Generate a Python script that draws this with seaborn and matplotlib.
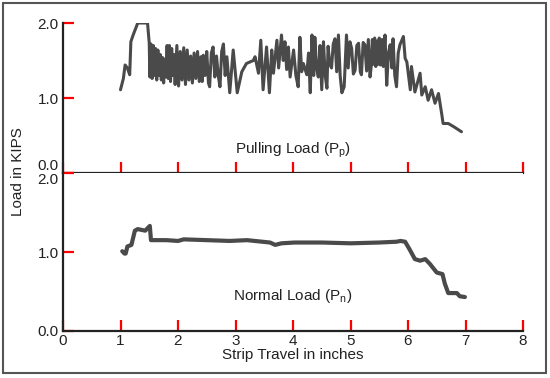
import matplotlib
matplotlib.use('Agg')
import matplotlib.pyplot as plt
import seaborn as sns
from matplotlib import font_manager
from matplotlib.patches import Rectangle

# pulling load (top panel)
pull_x = [1.00, 1.05, 1.08, 1.12, 1.16, 1.18, 1.22, 1.30, 1.47, 1.50, 1.51,
          1.53, 1.55, 1.57, 1.59, 1.61, 1.63, 1.65, 1.67, 1.69, 1.71, 1.73,
          1.75, 1.77, 1.79, 1.81, 1.83, 1.85, 1.87, 1.89, 1.91, 1.93, 1.95,
          1.98, 2.01, 2.04, 2.07, 2.10, 2.13, 2.16, 2.19, 2.22, 2.25, 2.28,
          2.31, 2.34, 2.37, 2.40, 2.42, 2.44, 2.47, 2.50, 2.53, 2.55, 2.58,
          2.61, 2.64, 2.67, 2.70, 2.73, 2.76, 2.79, 2.82, 2.85, 2.90, 2.96,
          3.03, 3.11, 3.19, 3.25, 3.31, 3.34, 3.40, 3.44, 3.48, 3.54, 3.59,
          3.63, 3.66, 3.72, 3.75, 3.80, 3.83, 3.86, 3.89, 3.92, 3.95, 4.01,
          4.05, 4.09, 4.12, 4.15, 4.18, 4.24, 4.27, 4.30, 4.33, 4.36, 4.38,
          4.41, 4.44, 4.47, 4.50, 4.53, 4.56, 4.59, 4.61, 4.64, 4.67, 4.70,
          4.73, 4.76, 4.79, 4.82, 4.85, 4.89, 4.93, 4.96, 4.99, 5.02, 5.05,
          5.08, 5.11, 5.14, 5.17, 5.19, 5.22, 5.25, 5.28, 5.31, 5.34, 5.36,
          5.38, 5.40, 5.42, 5.44, 5.46, 5.48, 5.50, 5.52, 5.55, 5.57, 5.60,
          5.63, 5.66, 5.69, 5.72, 5.74, 5.77, 5.80, 5.83, 5.86, 5.92, 5.95,
          5.98, 6.04, 6.06, 6.12, 6.21, 6.24, 6.30, 6.35, 6.41, 6.47, 6.53,
          6.59, 6.61, 6.70, 6.79, 6.93]
pull_y = [1.11, 1.26, 1.44, 1.40, 1.31, 1.75, 1.84, 2.00, 2.00, 1.73, 1.28,
          1.72, 1.26, 1.70, 1.30, 1.66, 1.24, 1.64, 1.30, 1.58, 1.24, 1.54,
          1.20, 1.52, 1.28, 1.70, 1.26, 1.70, 1.22, 1.66, 1.30, 1.58, 1.18,
          1.70, 1.16, 1.62, 1.24, 1.67, 1.18, 1.64, 1.24, 1.56, 1.20, 1.60,
          1.26, 1.62, 1.22, 1.55, 1.22, 1.57, 1.30, 1.62, 1.20, 1.15, 1.60,
          1.68, 1.28, 1.56, 1.30, 1.15, 1.62, 1.72, 1.30, 1.55, 1.07, 1.64,
          1.07, 1.35, 1.46, 1.48, 1.50, 1.55, 1.33, 1.77, 1.11, 1.68, 1.07,
          1.64, 1.33, 1.77, 1.40, 1.84, 1.50, 1.75, 1.38, 1.68, 1.28, 1.64,
          1.30, 1.15, 1.81, 1.35, 1.46, 1.31, 1.60, 1.07, 1.84, 1.30, 1.81,
          1.40, 1.28, 1.70, 1.11, 1.75, 1.30, 1.13, 1.69, 1.45, 1.40, 1.72,
          1.79, 1.35, 1.84, 1.30, 1.07, 1.15, 1.84, 1.40, 1.75, 1.66, 1.32,
          1.37, 1.70, 1.73, 1.35, 1.31, 1.74, 1.71, 1.36, 1.78, 1.28, 1.42,
          1.78, 1.45, 1.80, 1.42, 1.76, 1.45, 1.80, 1.44, 1.78, 1.42, 1.84,
          1.17, 1.60, 1.71, 1.40, 1.79, 1.30, 1.15, 1.60, 1.71, 1.82, 1.53,
          1.48, 1.11, 1.42, 1.08, 1.33, 1.04, 1.15, 0.97, 1.11, 0.93, 1.06,
          0.77, 0.66, 0.66, 0.62, 0.55]

# normal load (bottom panel)
norm_x = [1.03, 1.07, 1.09, 1.12, 1.19, 1.25, 1.30, 1.43, 1.51, 1.53, 1.80,
          2.00, 2.10, 2.50, 2.90, 3.20, 3.60, 3.69, 3.80, 4.03, 4.50, 5.00,
          5.50, 5.80, 5.87, 5.95, 6.03, 6.12, 6.21, 6.30, 6.38, 6.50, 6.60,
          6.64, 6.70, 6.85, 6.90, 6.99]
norm_y = [1.01, 0.98, 0.98, 1.07, 1.09, 1.27, 1.29, 1.27, 1.33, 1.15, 1.15,
          1.14, 1.16, 1.15, 1.14, 1.15, 1.12, 1.09, 1.11, 1.12, 1.12, 1.11,
          1.12, 1.13, 1.14, 1.13, 1.03, 0.91, 0.89, 0.91, 0.85, 0.74, 0.72,
          0.60, 0.48, 0.48, 0.44, 0.43]

x_ticks = [0, 1, 2, 3, 4, 5, 6, 7, 8]
y_ticks = [0.0, 1.0, 2.0]
y_labels = ['0.0', '1.0', '2.0']

sns.set_style('ticks')
names = {f.name for f in font_manager.fontManager.ttflist}
if 'Liberation Sans Narrow' in names:
    plt.rcParams['font.family'] = ['Liberation Sans Narrow', 'DejaVu Sans']
else:
    plt.rcParams['font.family'] = ['Liberation Sans', 'DejaVu Sans']
plt.rcParams['mathtext.fontset'] = 'custom'
plt.rcParams['font.size'] = 11

line_c = '#4a4a4a'
axis_c = '#222222'
text_c = '#222222'
fs = 11

fig = plt.figure(figsize=(5.5, 3.78), dpi=100)
W, H = 550, 378
ax_top = fig.add_axes([63 / W, 1 - 173 / H, 460 / W, 150 / H])
ax_bot = fig.add_axes([63 / W, 1 - 331 / H, 460 / W, 158 / H])

sns.lineplot(x=pull_x, y=pull_y, ax=ax_top, color=line_c, linewidth=2.2,
             estimator=None, sort=False)
sns.lineplot(x=norm_x, y=norm_y, ax=ax_bot, color=line_c, linewidth=3.0,
             estimator=None, sort=False)

for ax in (ax_top, ax_bot):
    ax.set_xlim(0, 8)
    ax.set_ylim(0, 2.0)
    ax.set_xticks(x_ticks)
    ax.set_yticks(y_ticks)
    ax.set_yticklabels(y_labels)
    ax.spines['top'].set_visible(False)
    ax.spines['right'].set_visible(False)
    for s in ('left', 'bottom'):
        ax.spines[s].set_color(axis_c)
        ax.spines[s].set_linewidth(1.6)
    ax.tick_params(direction='in', length=8, width=1.6, color='red',
                   labelcolor=text_c, labelsize=fs, pad=3,
                   bottom=True, left=True, top=False, right=False)

ax_top.tick_params(axis='x', labelbottom=False)
ax_bot.tick_params(axis='x', pad=2)
ax_top.get_yticklabels()[0].set_va('bottom')
ax_bot.get_yticklabels()[2].set_va('top')

ax_top.text(4.0, 0.31, 'Pulling Load (P$_\\mathregular{p}$)', ha='center',
            va='center', fontsize=fs, color=text_c)
ax_bot.text(4.0, 0.44, 'Normal Load (P$_\\mathregular{n}$)', ha='center',
            va='center', fontsize=fs, color=text_c)

ax_bot.set_xlabel('Strip Travel in inches', fontsize=fs, color=text_c,
                  labelpad=0)
fig.text(18 / W, 1 - 172 / H, 'Load in KIPS', rotation=90, ha='center',
         va='center', fontsize=fs, color=text_c)

# thin frame round the whole figure
fig.add_artist(Rectangle((3 / W, 5 / H), 543 / W, 370 / H,
                         transform=fig.transFigure, fill=False,
                         lw=1.5, ec='#555555', zorder=-1))

fig.savefig('out.png', dpi=100)
